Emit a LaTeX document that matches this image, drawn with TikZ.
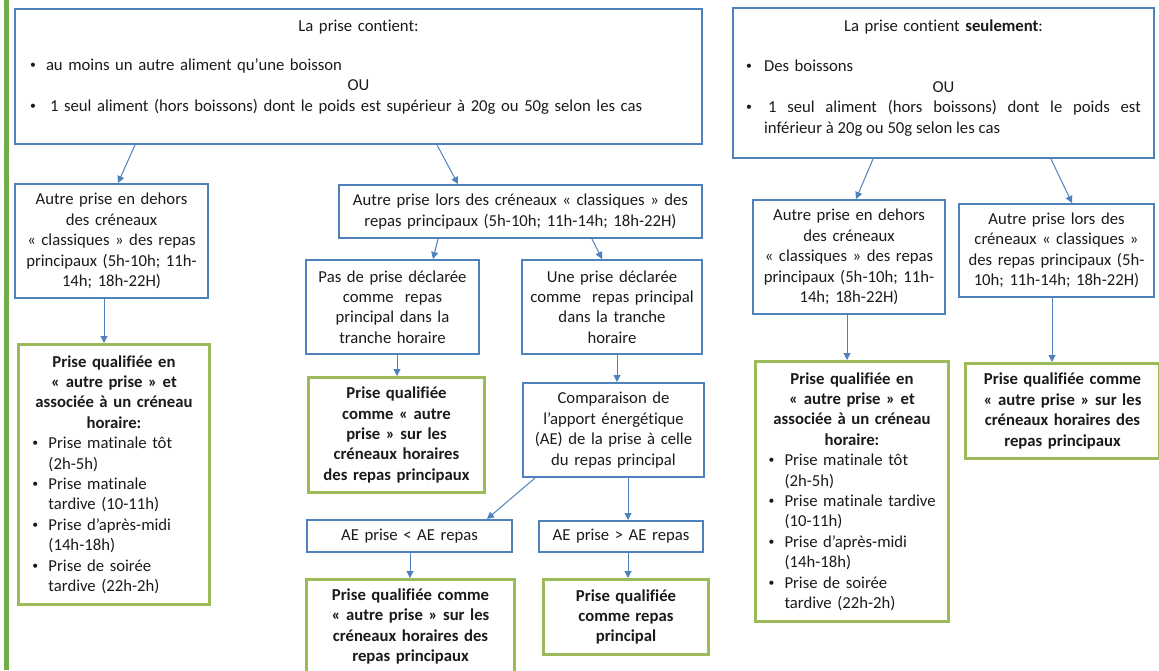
\documentclass[tikz,border=0pt]{standalone}
\usepackage{fontspec}
\setmainfont{Carlito}[Ligatures=NoCommon]
\usepackage{graphicx}
\usepackage{tikz}
\usetikzlibrary{arrows.meta, calc}
\usepackage{xcolor}

\definecolor{boxblue}{HTML}{4F81BD}
\definecolor{boxgreen}{HTML}{9BBB59}
\definecolor{bargreen}{HTML}{70AD47}
\definecolor{ink}{HTML}{1A1A1A}

% bullet line and its continuation inside a box
\newcommand{\pdot}{\raisebox{0.25ex}{\scalebox{0.7}{\textbullet}}}
\newcommand{\pitem}[2][8pt]{\makebox[\linewidth][l]{\makebox[#1][l]{\pdot}#2}}
\newcommand{\pcont}[2][8pt]{\makebox[\linewidth][l]{\hspace*{#1}#2}}

\begin{document}
\fontsize{8.35}{10.2}\selectfont
\begin{tikzpicture}[
    x=0.5pt, y=-0.5pt,
    box/.style={rectangle, draw=boxblue, line width=1pt, inner sep=0pt,
                anchor=north west, align=center, text=ink},
    goal/.style={box, draw=boxgreen, line width=1.5pt},
    arrow/.style={-{Triangle[length=3.5pt,width=3.5pt]}, draw=boxblue, line width=0.5pt},
]
\useasboundingbox (0,0) rectangle (1159,670);
\fill[bargreen] (4,0) rectangle (9,670);

% top conditions
\node[box, minimum width=343.5pt, minimum height=67.5pt, text width=328.5pt] (contient) at (14,8) {
  La prise contient:\\[9.2pt]
  \pitem{au moins un autre aliment qu’une boisson}\\
  OU\\
  \pitem{\hspace{2pt}1 seul aliment (hors boissons) dont le poids est supérieur à 20g ou 50g selon les cas\rule[-11pt]{0pt}{0pt}}};
\node[box, minimum width=210.5pt, minimum height=75pt, text width=197.5pt] (seulement) at (732,7) {
  La prise contient \textbf{seulement}:\\ \strut\\
  \pitem[9pt]{Des boissons}\\
  OU\\
  \pitem[9pt]{\parbox[t]{188.5pt}{\spaceskip=0pt \xspaceskip=0pt
    \hspace{2pt}1 seul aliment (hors boissons) dont le poids est\linebreak inférieur à 20g ou 50g selon les cas}\rule[-17pt]{0pt}{0pt}}};

% left branch
\node[box, minimum width=96.5pt, minimum height=57pt, text width=92pt] (dehors) at (14,183)
  {Autre prise en dehors\\des créneaux\\«~classiques~» des repas\\principaux (5h-10h; 11h-\\14h; 18h-22H)};
\node[goal, minimum width=95.5pt, minimum height=130pt, text width=81.5pt] (creneau) at (17,343) {
  \textbf{Prise qualifiée en}\\ \textbf{«~autre prise~» et}\\ \textbf{associée à un créneau}\\ \textbf{horaire:}\\
  \pitem{Prise matinale tôt}\\ \pcont{(2h-5h)}\\
  \pitem{Prise matinale}\\ \pcont{tardive (10-11h)}\\
  \pitem{Prise d’après-midi}\\ \pcont{(14h-18h)}\\
  \pitem{Prise de soirée}\\ \pcont{tardive (22h-2h)}};

% middle branch
\node[box, minimum width=181.5pt, minimum height=26.5pt, text width=178pt] (lors) at (338,184)
  {Autre prise lors des créneaux «~classiques~» des\\repas principaux (5h-10h; 11h-14h; 18h-22H)};
\node[box, minimum width=86.5pt, minimum height=47pt, text width=84pt] (pasrepas) at (305,259)
  {Pas de prise déclarée\\comme\ \ repas\\principal dans la\\tranche horaire};
\node[box, minimum width=90pt, minimum height=47pt, text width=87pt] (unrepas) at (521,259)
  {Une prise déclarée\\comme\ \ repas principal\\dans la tranche\\horaire};
\node[goal, font=\bfseries, minimum width=88pt, minimum height=57.5pt, text width=85pt] (autreA) at (307,376)
  {Prise qualifiée\\comme «~autre\\prise~» sur les\\créneaux horaires\\des repas principaux};
\node[box, minimum width=90.5pt, minimum height=47pt, text width=88pt] (compar) at (522,382)
  {Comparaison de\\l’apport énergétique\\(AE) de la prise à celle\\du repas principal};
\node[box, minimum width=102.5pt, minimum height=16pt, text width=100pt] (inf) at (306,519) {AE prise < AE repas};
\node[box, minimum width=82pt, minimum height=15.5pt, text width=80pt] (sup) at (538,520) {AE prise > AE repas};
\node[goal, font=\bfseries, minimum width=104pt, minimum height=47pt, text width=101pt] (autreB) at (305,578)
  {Prise qualifiée comme\\«~autre prise~» sur les\\créneaux horaires des\\repas principaux};
\node[goal, font=\bfseries, minimum width=82.5pt, minimum height=37.5pt, text width=80pt] (principal) at (542,578)
  {Prise qualifiée\\comme repas\\principal};

% right branch
\node[box, minimum width=96pt, minimum height=57pt, text width=92pt] (dehorsB) at (752,199)
  {Autre prise en dehors\\des créneaux\\«~classiques~» des repas\\principaux (5h-10h; 11h-\\14h; 18h-22H)};
\node[box, minimum width=97.5pt, minimum height=46.5pt, text width=94pt] (lorsB) at (958,203)
  {Autre prise lors des\\créneaux «~classiques~»\\des repas principaux (5h-\\10h; 11h-14h; 18h-22H)};
\node[goal, minimum width=96.5pt, minimum height=130pt, text width=83.5pt] (creneauB) at (754,360) {
  \textbf{Prise qualifiée en}\\ \textbf{«~autre prise~» et}\\ \textbf{associée à un créneau}\\ \textbf{horaire:}\\
  \pitem{Prise matinale tôt}\\ \pcont{(2h-5h)}\\
  \pitem{Prise matinale tardive}\\ \pcont{(10-11h)}\\
  \pitem{Prise d’après-midi}\\ \pcont{(14h-18h)}\\
  \pitem{Prise de soirée}\\ \pcont{tardive (22h-2h)}};
\node[goal, font=\bfseries, minimum width=97pt, minimum height=47.5pt, text width=94pt] (autreC) at (964,362)
  {Prise qualifiée comme\\«~autre prise~» sur les\\créneaux horaires des\\repas principaux};

\draw[arrow] ($(contient.south west)+(121,0)$) -- ($(dehors.north west)+(104,0)$);
\draw[arrow] ($(contient.south west)+(423,0)$) -- ($(lors.north west)+(120,0)$);
\draw[arrow] ($(dehors.south west)+(90,0)$) -- ($(creneau.north west)+(87,0)$);
\draw[arrow] ($(lors.south west)+(100,0)$) -- ($(pasrepas.north west)+(128,0)$);
\draw[arrow] ($(lors.south west)+(254,0)$) -- ($(unrepas.north west)+(81,0)$);
\draw[arrow] ($(pasrepas.south west)+(92,0)$) -- ($(autreA.north west)+(90,0)$);
\draw[arrow] ($(unrepas.south west)+(96,0)$) -- ($(compar.north west)+(95,0)$);
\draw[arrow] ($(compar.south west)+(13,0)$) -- ($(inf.north west)+(181,0)$);
\draw[arrow] ($(compar.south west)+(106,0)$) -- ($(sup.north west)+(90,0)$);
\draw[arrow] ($(inf.south west)+(104,0)$) -- ($(autreB.north west)+(105,0)$);
\draw[arrow] ($(sup.south west)+(90,0)$) -- ($(principal.north west)+(86,0)$);
\draw[arrow] ($(seulement.south west)+(141,0)$) -- ($(dehorsB.north west)+(104,0)$);
\draw[arrow] ($(seulement.south west)+(319,0)$) -- ($(lorsB.north west)+(114,0)$);
\draw[arrow] ($(dehorsB.south west)+(95,0)$) -- ($(creneauB.north west)+(93,0)$);
\draw[arrow] ($(lorsB.south west)+(94,0)$) -- ($(autreC.north west)+(88,0)$);
\end{tikzpicture}
\end{document}
